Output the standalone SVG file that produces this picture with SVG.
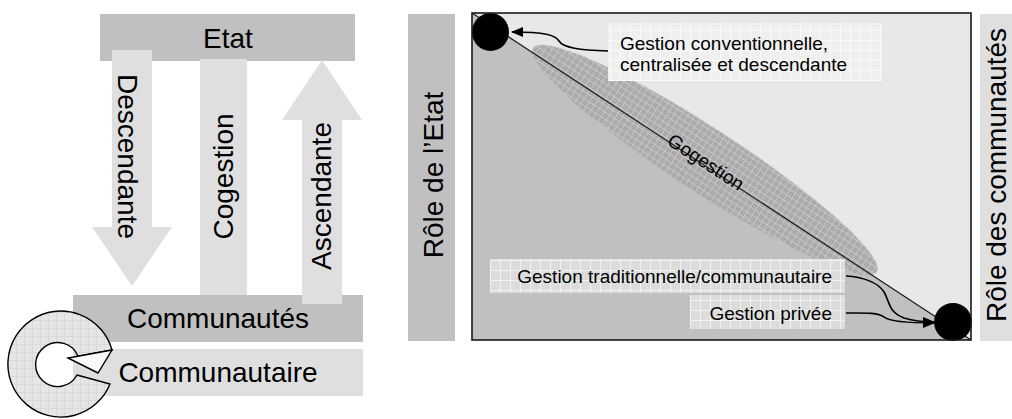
<svg xmlns="http://www.w3.org/2000/svg" width="1012" height="419" viewBox="0 0 1012 419">
  <style>
    text { font-family: "Liberation Sans", Arial, sans-serif; fill: #000; }
    .big { font-size: 28px; }
    .lbl { font-size: 19px; }
    .bar-dark { fill: #c0c0c0; }
    .bar-light { fill: #dfdfdf; }
    .conn { fill: none; stroke: #000; stroke-width: 1.6; }
    .dot { fill: #000; }
  </style>
  <defs>
    <pattern id="gridLight" width="10" height="10" patternUnits="userSpaceOnUse">
      <rect width="10" height="10" fill="#efefef"/>
      <path d="M0 0.5H10M0.5 0V10" stroke="#fafafa" stroke-width="1"/>
    </pattern>
    <pattern id="gridMid" width="10" height="10" patternUnits="userSpaceOnUse">
      <rect width="10" height="10" fill="#dcdcdc"/>
      <path d="M0 0.5H10M0.5 0V10" stroke="#f2f2f2" stroke-width="1"/>
    </pattern>
    <pattern id="hatch" width="6" height="6" patternUnits="userSpaceOnUse">
      <rect width="6" height="6" fill="#a9a9a9"/>
      <path d="M0 0.5H6M0.5 0V6" stroke="#c6c6c6" stroke-width="1"/>
      <rect x="3" y="3" width="1" height="1" fill="#bdbdbd"/>
    </pattern>
    <pattern id="ringGrid" width="8" height="8" patternUnits="userSpaceOnUse">
      <rect width="8" height="8" fill="#e6e6e6"/>
      <path d="M0 0.5H8M0.5 0V8" stroke="#d9d9d9" stroke-width="1"/>
    </pattern>
    <filter id="soft" x="-10%" y="-10%" width="120%" height="120%">
      <feGaussianBlur stdDeviation="0.7"/>
    </filter>
    <marker id="arrowHead" markerWidth="12" markerHeight="10" refX="11" refY="5" orient="auto" markerUnits="userSpaceOnUse">
      <path d="M0 0L12 5L0 10Z" fill="#000"/>
    </marker>
  </defs>

  <!-- Left panel: flow between State and communities -->
  <g id="etat">
    <rect class="bar-dark" x="100" y="14" width="255" height="47"/>
    <text class="big" x="228" y="48" text-anchor="middle">Etat</text>
  </g>

  <g id="communautes">
    <rect class="bar-dark" x="73" y="295" width="290" height="47"/>
    <text class="big" x="218" y="328" text-anchor="middle">Communautés</text>
  </g>

  <g id="communautaire">
    <rect class="bar-light" x="73" y="349" width="290" height="47"/>
    <text class="big" x="218" y="382" text-anchor="middle">Communautaire</text>
  </g>

  <g id="connectors">
    <g id="descendante">
      <polygon class="bar-light" points="112,50 152,50 152,227 172,227 132,286 92,227 112,227"/>
      <text class="big" transform="translate(118,156.5) rotate(90)" text-anchor="middle">Descendante</text>
    </g>
    <g id="cogestion">
      <rect class="bar-light" x="200" y="59" width="47" height="236"/>
      <text class="big" transform="translate(233,176.5) rotate(-90)" text-anchor="middle">Cogestion</text>
    </g>
    <g id="ascendante">
      <polygon class="bar-light" points="322,60 362,120 342,120 342,304 302,304 302,120 282,120"/>
      <text class="big" transform="translate(331,196) rotate(-90)" text-anchor="middle">Ascendante</text>
    </g>
    <!-- self-loop of the community level -->
    <g id="boucle">
      <path d="M77,375 L110,384 A53,53 0 1 1 112,350 L78,356.2 A22,22 0 1 0 77,375 Z" fill="url(#ringGrid)" fill-rule="evenodd" stroke="#000" stroke-width="1.4"/>
      <polygon points="112,350 68,358 98,373" fill="#fafafa" stroke="#000" stroke-width="1.4"/>
    </g>
  </g>

  <!-- Right panel: share of roles between State and communities -->
  <g id="role-etat">
    <rect class="bar-dark" x="408" y="14" width="47" height="327"/>
    <text class="big" transform="translate(443,175) rotate(-90)" text-anchor="middle">Rôle de l’Etat</text>
  </g>

  <g id="role-communautes">
    <rect class="bar-light" x="980" y="14" width="40" height="327"/>
    <text class="big" transform="translate(1006,175) rotate(-90)" text-anchor="middle">Rôle des communautés</text>
  </g>

  <g id="graphique">
    <polygon points="472,13 971,13 971,340" fill="#e8e8e8"/>
    <polygon points="472,13 971,340 472,340" fill="#c0c0c0"/>
    <g id="zone-cogestion">
      <ellipse cx="705" cy="160" rx="205" ry="32" transform="rotate(33.1 705 160)" fill="url(#hatch)" filter="url(#soft)"/>
    </g>
    <line x1="472" y1="13" x2="971" y2="340" stroke="#1a1a1a" stroke-width="1.2"/>
    <text class="lbl" font-size="18" transform="translate(704,165) rotate(33.2)" text-anchor="middle" y="3">Gogestion</text>
  </g>

  <g id="gestion-conventionnelle">
    <rect x="608" y="23" width="274" height="58" fill="url(#gridLight)"/>
    <text class="lbl" x="620" y="50">Gestion conventionnelle,</text>
    <text class="lbl" x="620" y="71">centralisée et descendante</text>
  </g>

  <g id="gestion-traditionnelle">
    <rect x="490" y="259" width="355" height="34" fill="url(#gridMid)"/>
    <text class="lbl" x="832" y="283" text-anchor="end">Gestion traditionnelle/communautaire</text>
  </g>

  <g id="gestion-privee">
    <rect x="690" y="295" width="155" height="34" fill="url(#gridMid)"/>
    <text class="lbl" x="832" y="320" text-anchor="end">Gestion privée</text>
  </g>

  <g id="pointeurs">
    <path class="conn" d="M608,51 C580,50 563,48 559,41 C555,35 545,32 512,32" marker-end="url(#arrowHead)"/>
    <path class="conn" d="M846,276 C862,277 878,282 884,292 C890,302 888,312 904,318 C914,321 924,322 934,322" marker-end="url(#arrowHead)"/>
    <path class="conn" d="M846,313 C862,313 878,312 884,317 C890,322 910,323 934,323" marker-end="url(#arrowHead)"/>
  </g>

  <g id="extremes">
    <ellipse class="dot" cx="490.5" cy="32" rx="18.5" ry="19"/>
    <ellipse class="dot" cx="953" cy="322" rx="19" ry="19"/>
  </g>

  <rect x="472" y="13" width="499" height="327" fill="none" stroke="#1a1a1a" stroke-width="1.6"/>
</svg>
